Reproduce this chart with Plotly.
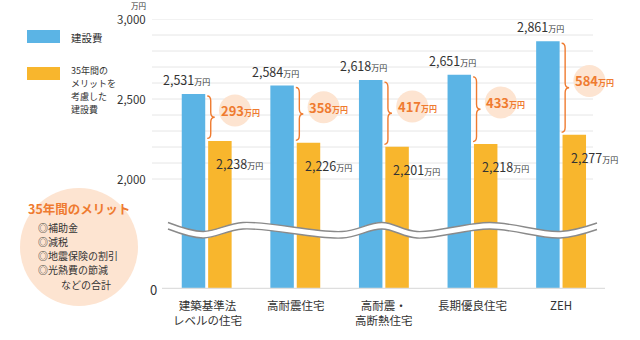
import plotly.graph_objects as go

# ---------------- data ----------------
categories = ["建築基準法<br>レベルの住宅", "高耐震住宅", "高耐震・<br>高断熱住宅", "長期優良住宅", "ZEH"]
construction_cost = [2531, 2584, 2618, 2651, 2861]
cost_with_merit = [2238, 2226, 2201, 2218, 2277]
y_tick_values = [0, 2000, 2500, 3000]
y_tick_labels = ["0", "2,000", "2,500", "3,000"]
grid_values = list(range(2000, 3001, 100))
legend_labels = ["建設費", "35年間の", "メリットを", "考慮した", "建設費"]
merit_title = "35年間のメリット"
merit_items = ["◎補助金", "◎減税", "◎地震保険の割引", "◎光熱費の節減"]
merit_footer = "などの合計"
unit = "万円"

# ---------------- style / layout constants ----------------
FONT = "Noto Sans CJK JP"
BLUE = "#5bb4e5"
ORANGE = "#f8b62d"
ACCENT = "#ef7b30"
PEACH = "#fde4d1"
TEXT = "#333333"
W, H = 640, 340
L, R, T, B = 152, 605, 19, 289          # plot area in pixels
C0, S = 207.0, 88.6                      # first group centre, group spacing (px)
PXU = 0.16                               # pixels per value unit above the break
Y0 = 3000 - (B - T) / PXU                # value at the bottom of the (broken) axis
BW = 0.265
OFF_BLUE, OFF_ORANGE = -0.285, 0.013


def px2x(px):
    return (px - C0) / S


def py2y(py):
    return 3000 - (py - T) / PXU


def paper_x(px):
    return (px - L) / (R - L)


def paper_y(py):
    return (B - py) / (B - T)


def disp(v):
    return Y0 if v == 0 else v


xs = list(range(len(categories)))
fig = go.Figure()

fig.add_bar(x=xs, y=construction_cost, width=BW, offset=OFF_BLUE,
            marker=dict(color=BLUE, line_width=0), name="建設費", hoverinfo="skip")
fig.add_bar(x=xs, y=cost_with_merit, width=BW, offset=OFF_ORANGE,
            marker=dict(color=ORANGE, line_width=0), name="35年間のメリットを考慮した建設費",
            hoverinfo="skip")

# ---- wavy axis break ----
wave_px = [(168, 222.5), (203, 231.5), (243, 222.5), (342, 231.5), (382, 222.5),
           (417, 231.5), (490, 222.5), (560, 231.5), (597, 223)]
wx = [px2x(p[0]) for p in wave_px]
wy_top = [py2y(p[1]) for p in wave_px]
wy_bot = [py2y(p[1] + 6.5) for p in wave_px]
fig.add_scatter(x=wx, y=wy_bot, mode="lines", line=dict(color="#8a8a8a", width=1.4, shape="spline"),
                hoverinfo="skip", showlegend=False, cliponaxis=False)
fig.add_scatter(x=wx, y=wy_top, mode="lines", line=dict(color="#8a8a8a", width=1.4, shape="spline"),
                fill="tonexty", fillcolor="white", hoverinfo="skip", showlegend=False,
                cliponaxis=False)

# ---- difference circles ----
diffs = [b - o for b, o in zip(construction_cost, cost_with_merit)]
cx = [i + 28 / S for i in xs]
cy = [(b + o) / 2 + 7 / PXU for b, o in zip(construction_cost, cost_with_merit)]
fig.add_scatter(x=cx, y=cy, mode="markers",
                marker=dict(size=32, color=PEACH, line_width=0),
                hoverinfo="skip", showlegend=False, cliponaxis=False)

shapes = []
# gridlines
for g in grid_values:
    shapes.append(dict(type="line", xref="paper", yref="y", x0=0, x1=paper_x(593), y0=g, y1=g,
                       line=dict(color="#e6e6e6", width=1), layer="below"))
# baseline
shapes.append(dict(type="line", xref="paper", yref="y", x0=paper_x(162), x1=1, y0=Y0, y1=Y0,
                   line=dict(color="#dedede", width=2.5), layer="above"))

# braces
r = 5 / PXU
for i, (b, o) in enumerate(zip(construction_cost, cost_with_merit)):
    xr = i + OFF_BLUE + BW
    xl = xr + 2 / S
    xm = xr + 5.5 / S
    xt = xr + 9.5 / S
    ytop = b - 2 / PXU
    ybot = o + 2.5 / PXU
    ym = (ytop + ybot) / 2
    path = (f"M {xl},{ytop} Q {xm},{ytop} {xm},{ytop - r} L {xm},{ym + r} "
            f"Q {xm},{ym} {xt},{ym} Q {xm},{ym} {xm},{ym - r} L {xm},{ybot + r} "
            f"Q {xm},{ybot} {xl},{ybot}")
    shapes.append(dict(type="path", xref="x", yref="y", path=path,
                       line=dict(color=ACCENT, width=1.4)))

# legend swatches
shapes.append(dict(type="rect", xref="paper", yref="paper", x0=paper_x(27), x1=paper_x(60),
                   y0=paper_y(43), y1=paper_y(30), fillcolor=BLUE, line_width=0))
shapes.append(dict(type="rect", xref="paper", yref="paper", x0=paper_x(27), x1=paper_x(60),
                   y0=paper_y(80), y1=paper_y(67), fillcolor=ORANGE, line_width=0))
# merit circle
shapes.append(dict(type="circle", xref="paper", yref="paper", x0=paper_x(20), x1=paper_x(138),
                   y0=paper_y(306), y1=paper_y(188), fillcolor=PEACH, line_width=0, layer="below"))

ann = []
small = "<span style='font-size:8px'>{}</span>"
# value labels
for i, (b, o) in enumerate(zip(construction_cost, cost_with_merit)):
    ann.append(dict(x=i + OFF_BLUE + BW / 2, y=b, xref="x", yref="y", xanchor="center",
                    yanchor="bottom", xshift=-7, yshift=3, showarrow=False,
                    text=f"{b:,}" + small.format(unit),
                    font=dict(family=FONT, size=12.5, color=TEXT)))
    ann.append(dict(x=i + OFF_ORANGE, y=o, xref="x", yref="y", xanchor="left",
                    yanchor="top", xshift=6, yshift=-11, showarrow=False,
                    text=f"{o:,}" + small.format(unit),
                    font=dict(family=FONT, size=12.5, color=TEXT)))
    ann.append(dict(x=cx[i], y=cy[i], xref="x", yref="y", xanchor="center", yanchor="middle",
                    xshift=5, showarrow=False,
                    text=f"<b>{diffs[i]}" + small.format(unit) + "</b>",
                    font=dict(family=FONT, size=13, color=ACCENT)))
# category labels
for i, c in enumerate(categories):
    ann.append(dict(x=i, y=paper_y(295), xref="x", yref="paper", xanchor="center",
                    yanchor="top", showarrow=False, text=c,
                    font=dict(family=FONT, size=11.5, color=TEXT)))
# y tick labels
for v, t in zip(y_tick_values, y_tick_labels):
    right = 159 if v == 0 else 148
    ann.append(dict(x=paper_x(right), y=disp(v), xref="paper", yref="y", xanchor="right",
                    yanchor="middle", showarrow=False, text=t,
                    font=dict(family=FONT, size=11.5 if v else 13, color=TEXT)))
ann.append(dict(x=paper_x(148), y=paper_y(5), xref="paper", yref="paper", xanchor="right",
                yanchor="middle", showarrow=False, text=unit,
                font=dict(family=FONT, size=7.5, color=TEXT)))
# legend text
ann.append(dict(x=paper_x(69), y=paper_y(37), xref="paper", yref="paper", xanchor="left",
                yanchor="middle", showarrow=False, text=legend_labels[0],
                font=dict(family=FONT, size=10.5, color=TEXT)))
for t, yy in zip(legend_labels[1:], [70, 83, 96, 109]):
    ann.append(dict(x=paper_x(69), y=paper_y(yy), xref="paper", yref="paper", xanchor="left",
                    yanchor="middle", showarrow=False, text=t,
                    font=dict(family=FONT, size=9, color=TEXT)))
# merit circle text
ann.append(dict(x=paper_x(79), y=paper_y(208), xref="paper", yref="paper", xanchor="center",
                yanchor="middle", showarrow=False, text=f"<b>{merit_title}</b>",
                font=dict(family=FONT, size=12.5, color=ACCENT)))
for t, yy in zip(merit_items, [227, 241, 255, 269]):
    ann.append(dict(x=paper_x(36), y=paper_y(yy), xref="paper", yref="paper", xanchor="left",
                    yanchor="middle", showarrow=False, text=t,
                    font=dict(family=FONT, size=10, color=TEXT)))
ann.append(dict(x=paper_x(59), y=paper_y(284), xref="paper", yref="paper", xanchor="left",
                yanchor="middle", showarrow=False, text=merit_footer,
                font=dict(family=FONT, size=10, color=TEXT)))

fig.update_layout(
    width=W, height=H, margin=dict(l=L, r=W - R, t=T, b=H - B),
    paper_bgcolor="white", plot_bgcolor="white", barmode="overlay", showlegend=False,
    xaxis=dict(range=[px2x(L), px2x(R)], showticklabels=False, showgrid=False,
               zeroline=False, showline=False, fixedrange=True),
    yaxis=dict(range=[Y0, 3000], showticklabels=False, showgrid=False, zeroline=False,
               showline=False, fixedrange=True),
    shapes=shapes, annotations=ann, font=dict(family=FONT),
)
fig.write_html("out.html", config={"displayModeBar": False})
